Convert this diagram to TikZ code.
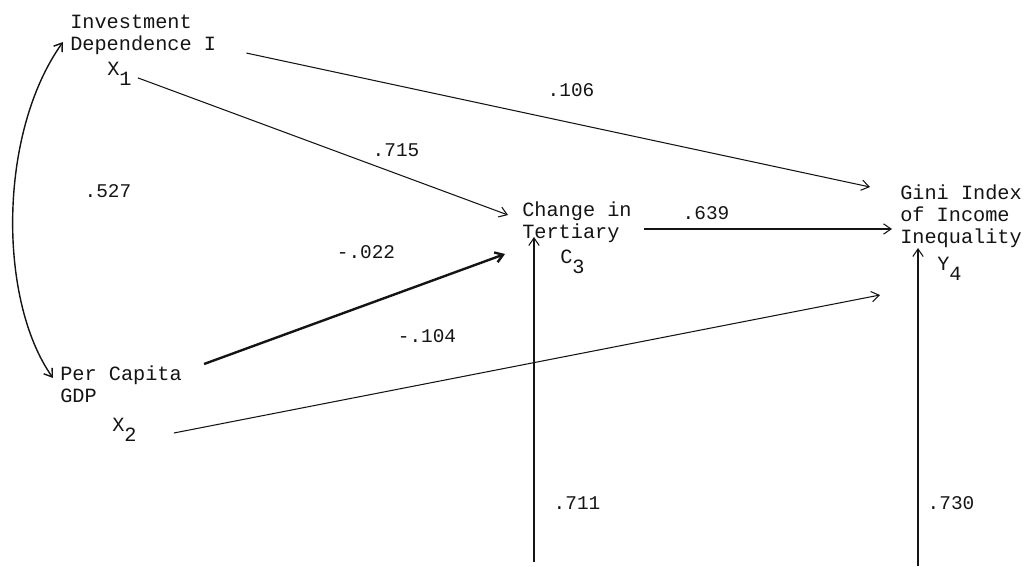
\documentclass[tikz,border=0pt]{standalone}
\usepackage{fontspec}
\setmonofont{Liberation Mono}
\usepackage{tikz}
\usetikzlibrary{arrows.meta,positioning,calc}
\definecolor{inkcol}{RGB}{20,20,20}
\tikzset{
  pathln/.style={-{Straight Barb[length=1.9mm,width=2.6mm]}, line width=0.75pt, inkcol},
  thickln/.style={pathln, line width=1.7pt},
  corrln/.style={{Straight Barb[length=1.9mm,width=2.6mm]}-{Straight Barb[length=1.9mm,width=2.6mm]}, line width=1pt, inkcol},
  varlbl/.style={anchor=north west, inner sep=0pt, align=left, inkcol,
    font=\ttfamily\fontsize{14.4}{15.5}\selectfont},
  coefl/.style={inner sep=0pt, inkcol, font=\ttfamily\fontsize{13.8}{15}\selectfont},
}
\newcommand{\lowsub}[1]{\raisebox{-7pt}{#1}}

\begin{document}
\begin{tikzpicture}[x=0.025cm, y=-0.025cm]
      \useasboundingbox (0,0) rectangle (1026,566);
      % variables
      \node[varlbl] (inv) at (70,15) {Investment\\Dependence I};
      \node[varlbl] (x1) at (107,62) {X\lowsub{1}};
      \node[varlbl] (pcgdp) at (60,366) {Per Capita\\GDP};
      \node[varlbl] (x2) at (112,418) {X\lowsub{2}};
      \node[varlbl] (chg) at (522,202) {Change in\\Tertiary};
      \node[varlbl] (c3) at (560,250) {C\lowsub{3}};
      \node[varlbl] (gini) at (900,185) {Gini Index\\of Income\\Inequality};
      \node[varlbl] (y4) at (937,257) {Y\lowsub{4}};
      % residual paths come in from below
      \coordinate (resc) at (534,562);
      \coordinate (resy) at (918,566);
      % correlation of the exogenous variables
      \draw[corrln] ($(pcgdp.north west)+(-7,12)$) .. controls (-2,300) and (-2,133) .. ($(inv.north west)+(-7,27)$);
      % paths
      \draw[pathln] ($(x1.east)+(6,4)$) -- ($(chg.north west)+(-14,13)$);
      \draw[pathln] ($(inv.south east)+(30,-2)$) -- ($(gini.north west)+(-30,2)$);
      \draw[thickln] ($(pcgdp.north east)+(22,-2)$) -- ($(chg.north west)+(-17,52)$);
      \draw[pathln] ($(x2.north east)+(37,15)$) -- ($(y4.north west)+(-57,38)$);
      \draw[pathln] ($(chg.north east)+(12,27)$) -- ($(gini.north west)+(-8,44)$);
      \draw[pathln] (resc) -- ($(chg.north west)+(12,35)$);
      \draw[pathln] (resy) -- ($(gini.north west)+(18,63)$);
      % coefficients
      \node[coefl] (c527) at (108,191) {.527};
      \node[coefl] (c715) at (396,150) {.715};
      \node[coefl] (c106) at (571,90) {.106};
      \node[coefl] (c022) at (366,252) {-.022};
      \node[coefl] (c104) at (427,336) {-.104};
      \node[coefl] (c639) at (706,213) {.639};
      \node[coefl] (c711) at (577,503) {.711};
      \node[coefl] (c730) at (951,503) {.730};
    \end{tikzpicture}
\end{document}
